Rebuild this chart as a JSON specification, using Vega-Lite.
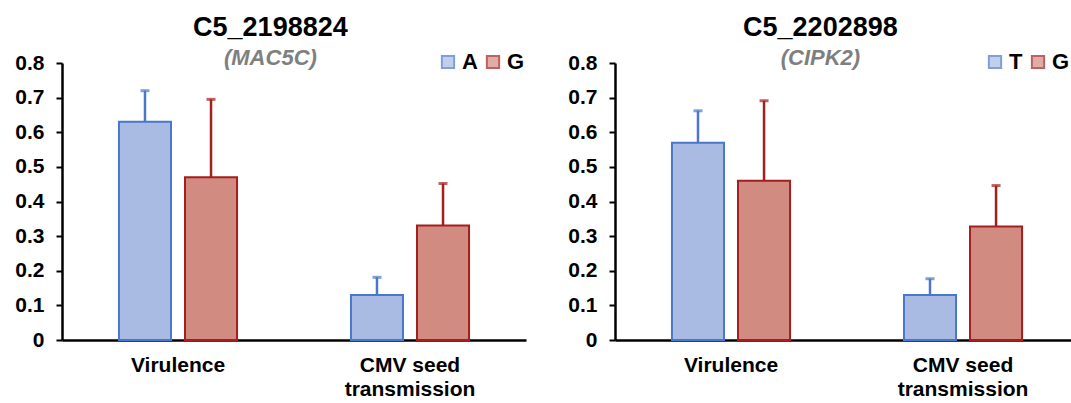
{
  "$schema": "https://vega.github.io/schema/vega-lite/v6.json",
  "background": "white",
  "padding": {"left": 14, "top": 14, "right": 0, "bottom": 0},
  "config": {
    "font": "Liberation Sans",
    "view": {"stroke": null},
    "concat": {"spacing": 41},
    "axis": {"domainColor": "black", "domainWidth": 2.5, "tickColor": "black", "tickWidth": 2, "labelColor": "black", "labelFontWeight": "bold", "grid": false, "title": null},
    "axisY": {"tickCount": 8, "labelOverlap": false, "tickSize": 6, "labelPadding": 12, "labelFontSize": 21, "labelExpr": "datum.value == 0 ? '0' : format(datum.value, '.1f')"},
    "axisX": {"ticks": false, "labelAngle": 0, "labelFontSize": 21, "labelBaseline": "middle", "labelLineHeight": 24, "labelLimit": 0, "labelPadding": 25, "labelExpr": "datum.value == 'CMV seed transmission' ? ['CMV seed', 'transmission'] : datum.value"},
    "title": {"fontSize": 27, "fontWeight": "bold", "color": "black", "subtitleFontSize": 22, "subtitleFontStyle": "italic", "subtitleFontWeight": "bold", "subtitleColor": "#7f7f7f", "subtitlePadding": 6, "offset": -19, "anchor": "middle", "frame": "bounds"},
    "legend": {"symbolType": "square", "symbolSize": 150, "symbolStrokeWidth": 2, "labelFontSize": 22, "labelFontWeight": "bold", "labelColor": "black", "columnPadding": 4, "labelOffset": 3}
  },
  "data": {"values": [
    {"panel": "L", "trait": "Virulence", "allele": "A", "mean": 0.63, "upper": 0.72},
    {"panel": "L", "trait": "Virulence", "allele": "G", "mean": 0.47, "upper": 0.695},
    {"panel": "L", "trait": "CMV seed transmission", "allele": "A", "mean": 0.13, "upper": 0.181},
    {"panel": "L", "trait": "CMV seed transmission", "allele": "G", "mean": 0.331, "upper": 0.452},
    {"panel": "R", "trait": "Virulence", "allele": "T", "mean": 0.57, "upper": 0.662},
    {"panel": "R", "trait": "Virulence", "allele": "G", "mean": 0.46, "upper": 0.691},
    {"panel": "R", "trait": "CMV seed transmission", "allele": "T", "mean": 0.13, "upper": 0.177},
    {"panel": "R", "trait": "CMV seed transmission", "allele": "G", "mean": 0.328, "upper": 0.446}
  ]},
  "resolve": {"scale": {"fill": "independent", "stroke": "independent", "xOffset": "independent", "x": "independent", "y": "independent"}, "legend": {"fill": "independent", "stroke": "independent"}},
  "hconcat": [
    {
      "width": 464, "height": 277,
      "title": {"text": "C5_2198824", "subtitle": "(MAC5C)"},
      "transform": [{"filter": "datum.panel == 'L'"}],
      "encoding": {
        "x": {"field": "trait", "type": "nominal", "sort": ["Virulence", "CMV seed transmission"], "scale": {"paddingInner": 0.491, "paddingOuter": 0.2455}},
        "xOffset": {"field": "allele", "type": "nominal", "scale": {"domain": ["A", "G"], "paddingInner": 0.212}}
      },
      "layer": [
        {"mark": {"type": "rule", "strokeWidth": 2.5},
         "encoding": {
           "y": {"field": "mean", "type": "quantitative", "scale": {"domain": [0, 0.8]}},
           "y2": {"field": "upper"},
           "stroke": {"field": "allele", "type": "nominal", "scale": {"domain": ["A", "G"], "range": ["#4a77cc", "#a31f1f"]}, "legend": {"orient": "none", "legendX": 375, "legendY": -12, "direction": "horizontal", "title": null}}
         }},
        {"mark": {"type": "tick", "filled": false, "thickness": 1, "size": 7, "strokeWidth": 2},
         "encoding": {
           "y": {"field": "upper", "type": "quantitative"},
           "stroke": {"field": "allele", "type": "nominal", "scale": {"domain": ["A", "G"], "range": ["#4a77cc", "#a31f1f"]}, "legend": {"orient": "none", "legendX": 375, "legendY": -12, "direction": "horizontal", "title": null}}
         }},
        {"mark": {"type": "bar", "strokeWidth": 2},
         "encoding": {
           "y": {"field": "mean", "type": "quantitative"},
           "fill": {"field": "allele", "type": "nominal", "scale": {"domain": ["A", "G"], "range": ["#a9bbe3", "#d28b80"]}, "legend": {"orient": "none", "legendX": 375, "legendY": -12, "direction": "horizontal", "title": null}},
           "stroke": {"field": "allele", "type": "nominal", "scale": {"domain": ["A", "G"], "range": ["#4a77cc", "#a31f1f"]}, "legend": {"orient": "none", "legendX": 375, "legendY": -12, "direction": "horizontal", "title": null}}
         }}
      ]
    },
    {
      "width": 458, "height": 277,
      "title": {"text": "C5_2202898", "subtitle": "(CIPK2)"},
      "transform": [{"filter": "datum.panel == 'R'"}],
      "encoding": {
        "x": {"field": "trait", "type": "nominal", "sort": ["Virulence", "CMV seed transmission"], "scale": {"paddingInner": 0.491, "paddingOuter": 0.2325, "align": 0.528}},
        "xOffset": {"field": "allele", "type": "nominal", "scale": {"domain": ["T", "G"], "paddingInner": 0.212}}
      },
      "layer": [
        {"mark": {"type": "rule", "strokeWidth": 2.5},
         "encoding": {
           "y": {"field": "mean", "type": "quantitative", "scale": {"domain": [0, 0.8]}},
           "y2": {"field": "upper"},
           "stroke": {"field": "allele", "type": "nominal", "scale": {"domain": ["T", "G"], "range": ["#4a77cc", "#a31f1f"]}, "legend": {"orient": "none", "legendX": 369, "legendY": -12, "direction": "horizontal", "title": null}}
         }},
        {"mark": {"type": "tick", "filled": false, "thickness": 1, "size": 7, "strokeWidth": 2},
         "encoding": {
           "y": {"field": "upper", "type": "quantitative"},
           "stroke": {"field": "allele", "type": "nominal", "scale": {"domain": ["T", "G"], "range": ["#4a77cc", "#a31f1f"]}, "legend": {"orient": "none", "legendX": 369, "legendY": -12, "direction": "horizontal", "title": null}}
         }},
        {"mark": {"type": "bar", "strokeWidth": 2},
         "encoding": {
           "y": {"field": "mean", "type": "quantitative"},
           "fill": {"field": "allele", "type": "nominal", "scale": {"domain": ["T", "G"], "range": ["#a9bbe3", "#d28b80"]}, "legend": {"orient": "none", "legendX": 369, "legendY": -12, "direction": "horizontal", "title": null}},
           "stroke": {"field": "allele", "type": "nominal", "scale": {"domain": ["T", "G"], "range": ["#4a77cc", "#a31f1f"]}, "legend": {"orient": "none", "legendX": 369, "legendY": -12, "direction": "horizontal", "title": null}}
         }}
      ]
    }
  ]
}
